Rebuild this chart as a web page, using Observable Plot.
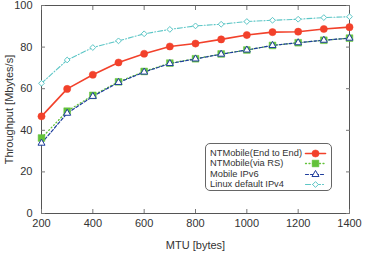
<!DOCTYPE html>
<html><head><meta charset="utf-8">
<script src="https://cdn.jsdelivr.net/npm/d3@7"></script>
<script src="https://cdn.jsdelivr.net/npm/@observablehq/plot@0.6"></script>
<style>
body{margin:0;background:#fff;}
#wrap{position:relative;width:390px;height:253px;font-family:"Liberation Sans",Arial,sans-serif;}
#legend{position:absolute;left:205px;top:143px;width:127px;height:48px;border:1px solid #666;border-radius:5px;background:#fff;box-sizing:border-box;font-size:9.3px;color:#333;}
.row{position:absolute;left:4px;height:10px;line-height:10px;white-space:nowrap;}
.key{position:absolute;left:99px;}
</style></head>
<body><div id="wrap"><div id="chart"></div><div id="legend"></div></div>
<script>
const mtu = [200,300,400,500,600,700,800,900,1000,1100,1200,1300,1400];
const endToEnd = [46.7,59.9,66.7,72.6,76.8,80.3,81.7,83.7,85.8,87.2,87.4,88.7,89.6];
const viaRS = [36.3,49.2,56.8,63.3,68.3,72.3,74.4,76.7,78.6,80.8,82.1,83.3,84.3];
const mobileIPv6 = [33.8,48.2,56.3,63.0,68.0,72.1,74.3,76.6,78.6,80.8,82.1,83.3,84.3];
const linuxIPv4 = [62.6,73.8,79.8,83.0,86.4,88.5,90.2,91.0,92.3,92.9,93.4,94.2,94.6];
const seriesNames = ["NTMobile(End to End)","NTMobile(via RS)","Mobile IPv6","Linux default IPv4"];
const xTicks = [200,400,600,800,1000,1200,1400];
const yTicks = [0,20,40,60,80,100];

const styles = [
  {color:"#f2412b", dash:null, symbol:"circle", fill:true, r:3.6, sw:1.6},
  {color:"#63c23a", dash:"1,2.5", symbol:"square", fill:true, r:3.8, sw:1.3},
  {color:"#1e3d9c", dash:"3,2", symbol:"triangle", fill:false, r:2.6, sw:1.2},
  {color:"#5cc6c6", dash:"5,2,1,2", symbol:"diamond2", fill:false, r:2.6, sw:1.1}
];
const allSeries = [endToEnd, viaRS, mobileIPv6, linuxIPv4];
const data = allSeries.map((vals,i)=>mtu.map((m,j)=>({mtu:m, value:vals[j], series:seriesNames[i]})));

const marks = [];
data.forEach((d,i)=>{
  const s = styles[i];
  marks.push(Plot.line(d,{x:"mtu",y:"value",stroke:s.color,strokeWidth:s.sw,strokeDasharray:s.dash}));
});
data.forEach((d,i)=>{
  const s = styles[i];
  marks.push(Plot.dot(d,{x:"mtu",y:"value",symbol:()=>s.symbol,r:s.r,
    fill:s.fill? s.color : "white", stroke:s.color, strokeWidth:s.fill?0.5:1}));
});
const fmt = d3.format("d");

const chart = Plot.plot({
  width:390, height:253,
  marginLeft:41, marginRight:41, marginTop:5, marginBottom:40,
  style:{fontFamily:"Liberation Sans, Arial, sans-serif", fontSize:"11px", color:"#333", background:"white"},
  x:{domain:[200,1400]},
  y:{domain:[0,100]},
  symbol:{type:"identity"},
  marks:[
    Plot.frame({stroke:"#555", strokeWidth:1}),
    Plot.axisX(xTicks,{anchor:"bottom", tickSize:-4, tickPadding:10, tickFormat:fmt, stroke:"#777", label:"MTU [bytes]", labelAnchor:"center", labelOffset:35, labelArrow:"none", fontSize:11}),
    Plot.axisX(xTicks,{anchor:"top", tickSize:-4, tickFormat:()=>"", stroke:"#777", label:null}),
    Plot.axisY(yTicks,{anchor:"left", tickSize:-4, tickPadding:13, tickFormat:fmt, stroke:"#777", label:"Throughput [Mbytes/s]", labelAnchor:"center", labelOffset:36, labelArrow:"none", fontSize:11}),
    Plot.axisY(yTicks,{anchor:"right", tickSize:-4, tickFormat:()=>"", stroke:"#777", label:null}),
    ...marks
  ]
});
document.getElementById("chart").appendChild(chart);

// legend
const leg = document.getElementById("legend");
seriesNames.forEach((name,i)=>{
  const s = styles[i];
  const row = document.createElement("div");
  row.className="row"; row.style.top=(4+i*10.4)+"px";
  row.textContent = name;
  leg.appendChild(row);
  const k = Plot.plot({width:20,height:10,margin:0,x:{domain:[0,2],axis:null},y:{domain:[0,1],axis:null},symbol:{type:"identity"},
    style:{background:"transparent",overflow:"visible"},
    marks:[
      Plot.line([{x:0,y:0.5},{x:2,y:0.5}],{x:"x",y:"y",stroke:s.color,strokeWidth:s.sw,strokeDasharray:s.dash}),
      Plot.dot([{x:1,y:0.5}],{x:"x",y:"y",symbol:()=>s.symbol,r:s.r,fill:s.fill?s.color:"white",stroke:s.color,strokeWidth:s.fill?0.5:1})
    ]});
  k.classList.add("key");
  k.style.top=(4+i*10.4)+"px";
  leg.appendChild(k);
});
</script></body></html>
